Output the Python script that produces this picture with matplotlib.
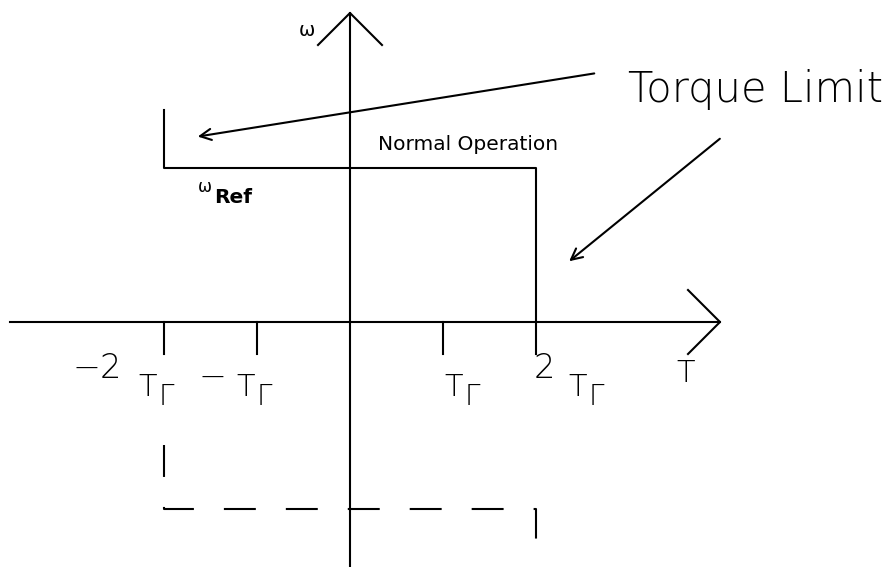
import numpy as np
import matplotlib
matplotlib.use('Agg')
import matplotlib.pyplot as plt

## Torque / speed operating region sketch

# Torque axis positions, in multiples of the rated torque Tr
t_ticks = [-2, -1, 1, 2]
tick_prefix = ['\u22122', '\u2212', '', '2']
# Torque limit envelope (T, omega) in Tr units
limit_T = [-2, -2, 2, 2]
limit_w = [2.28, 1.66, 1.66, 0.0]
# Mirrored (regenerating) limit, dashed
mirror_T = [-2, -2, 2, 2]
mirror_w = [-1.32, -2.01, -2.01, -2.35]
w_ref = 1.66

# pixel scale of the drawing: one Tr = 93 px, origin at (350, 322)
PX = 93.0
X0, Y0 = 350, 322
W, H = 890, 567


def px(x, y):
    """Converts picture pixels to drawing units."""
    return (x - X0) / PX, (Y0 - y) / PX


plt.rcParams['lines.scale_dashes'] = False
plt.rcParams['font.family'] = ['DejaVu Sans']

fig = plt.figure(figsize=(W / 100, H / 100), dpi=100)
ax = fig.add_axes([0, 0, 1, 1])
ax.set_xlim(-X0 / PX, (W - X0) / PX)
ax.set_ylim(-(H - Y0) / PX, Y0 / PX)
ax.axis('off')

lw = 1.5
k = 'black'

# axes with open arrow heads
x_left, x_tip = px(10, 0)[0], px(720, 0)[0]
y_top, y_bot = px(0, 13)[1], px(0, 567)[1]
ax.plot([x_left, x_tip], [0, 0], color=k, lw=lw)
ax.plot([0, 0], [y_bot, y_top], color=k, lw=lw)
arm = 32 / PX
ax.plot([x_tip - arm, x_tip, x_tip - arm], [arm, 0, -arm], color=k, lw=lw)
ax.plot([-arm, 0, arm], [y_top - arm, y_top, y_top - arm], color=k, lw=lw)

# tick marks and labels
tick_len = 32 / PX
t_off = [-16, -11, 11, 42]
p_off = [-67, -45, 0, 8]
p_y = [-47, -55, 0, -47]
for t, pre, to, po, py in zip(t_ticks, tick_prefix, t_off, p_off, p_y):
    ax.plot([t, t], [0, -tick_len], color=k, lw=lw)
    tx = t + to / PX
    ax.text(tx, -65 / PX, 'T', fontsize=22, ha='center', va='center',
            fontweight='light')
    ax.text(tx + 18 / PX, -75 / PX, '\u0393', fontsize=20, ha='center',
            va='center', fontweight='light')
    if pre:
        ax.text(t + po / PX, py / PX, pre, fontsize=24, ha='center', va='center',
                fontweight='light')

# limit envelope
ax.plot(limit_T, limit_w, color=k, lw=lw)
ax.plot(mirror_T, mirror_w, color=k, lw=lw, dashes=(23, 21.6))

# labels
ax.text(*px(307, 31), '\u03c9', fontsize=14, ha='center', va='center')
ax.text(*px(686, 373), 'T', fontsize=22, ha='center', va='center', fontweight='light')
ax.text(*px(205, 187), '\u03c9', fontsize=12, ha='center', va='center')
ax.text(-2 + 50 / PX, w_ref - 30 / PX, 'Ref', fontsize=14.5, ha='left', va='center',
        fontweight='bold')
ax.text(*px(468, 145), 'Normal Operation', fontsize=14.5, ha='center', va='center')
ax.text(*px(756, 90), 'Torque Limit', fontsize=30, ha='center', va='center',
        fontweight='light')

# torque limit call-outs
ax.annotate('', xy=px(195, 137), xytext=px(597, 73),
            arrowprops=dict(arrowstyle='->', color=k, lw=lw, mutation_scale=20))
ax.annotate('', xy=px(567, 263), xytext=px(722, 137),
            arrowprops=dict(arrowstyle='->', color=k, lw=lw, mutation_scale=20))

fig.savefig('out.png', dpi=100)
